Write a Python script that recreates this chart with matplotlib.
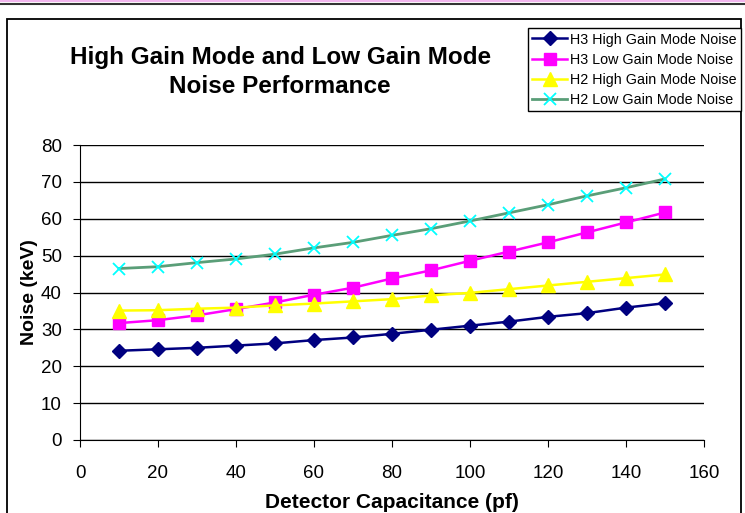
import matplotlib.pyplot as plt
from matplotlib.patches import Rectangle
from matplotlib.lines import Line2D

plt.rcParams['font.family'] = ['Liberation Sans', 'DejaVu Sans']

cap = [10, 20, 30, 40, 50, 60, 70, 80, 90, 100, 110, 120, 130, 140, 150]
h3_high = [24.2, 24.6, 25.0, 25.6, 26.2, 27.1, 27.8, 28.8, 29.9, 31.0, 32.1, 33.4, 34.4, 35.9, 37.1]
h3_low = [31.7, 32.5, 33.8, 35.5, 37.3, 39.4, 41.3, 43.8, 46.0, 48.6, 51.1, 53.6, 56.3, 59.0, 61.7]
h2_high = [35.1, 35.2, 35.6, 35.9, 36.5, 37.0, 37.6, 38.2, 39.2, 39.9, 40.9, 41.9, 42.9, 43.9, 44.9]
h2_low = [46.5, 47.0, 48.1, 49.1, 50.4, 52.1, 53.6, 55.5, 57.3, 59.4, 61.6, 63.8, 66.2, 68.4, 70.8]

fig = plt.figure(figsize=(7.45, 5.13), dpi=100)

# page strip and chart frame
fig.patches.append(Rectangle((0, 0.996), 1, 0.004, transform=fig.transFigure,
                             facecolor='#f2b6ee', edgecolor='none'))
fig.add_artist(Line2D([0, 1], [0.993, 0.993], transform=fig.transFigure, color='#333333', lw=1.5))
fig.patches.append(Rectangle((0.009, -0.05), 0.986, 1.013, transform=fig.transFigure,
                             facecolor='none', edgecolor='black', lw=1.3))

ax = fig.add_axes([80 / 745, 1 - 440 / 513, 624 / 745, 295 / 513])

ax.plot(cap, h3_high, color='#000080', marker='D', markersize=7, lw=1.8,
        label='H3 High Gain Mode Noise')
ax.plot(cap, h3_low, color='#ff00ff', marker='s', markersize=8, lw=1.8,
        label='H3 Low Gain Mode Noise')
ax.plot(cap, h2_high, color='#ffff00', marker='^', markersize=9.5, lw=1.8,
        label='H2 High Gain Mode Noise')
ax.plot(cap, h2_low, color='#5a9e78', marker='x', markersize=8, lw=2,
        markeredgecolor='#00ffff', markeredgewidth=1.3,
        label='H2 Low Gain Mode Noise')

ax.set_xlim(0, 160)
ax.set_ylim(0, 80)
ax.set_xticks(range(0, 161, 20))
ax.set_yticks(range(0, 81, 10))
ax.yaxis.grid(True, color='black', lw=1)
ax.set_axisbelow(True)
for s in ['top', 'right']:
    ax.spines[s].set_visible(False)
ax.tick_params(labelsize=13.5, direction='out', length=5, color='black')
ax.tick_params(axis='x', pad=13)
ax.tick_params(axis='y', pad=8)

ax.set_xlabel('Detector Capacitance (pf)', fontsize=15, fontweight='bold', labelpad=8)
ax.set_ylabel('Noise (keV)', fontsize=14, fontweight='bold', labelpad=2)

fig.text(0.376, 0.859, 'High Gain Mode and Low Gain Mode\nNoise Performance',
         ha='center', va='center', fontsize=17.5, fontweight='bold', linespacing=1.35)

leg = fig.legend(loc='upper right', bbox_to_anchor=(0.995, 0.945), fontsize=10.3,
                 frameon=True, fancybox=False, edgecolor='black', framealpha=1,
                 borderpad=0.3, labelspacing=0.42, handlelength=2.4, handletextpad=0.25,
                 borderaxespad=0)
leg.get_frame().set_linewidth(1)

fig.savefig('out.png', dpi=100)
